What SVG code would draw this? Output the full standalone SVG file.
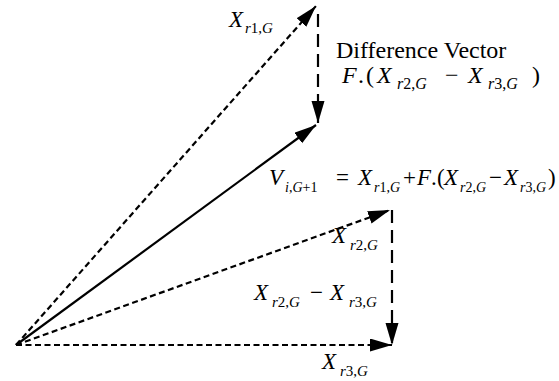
<svg xmlns="http://www.w3.org/2000/svg" width="559" height="381" viewBox="0 0 559 381">
<defs>
<marker id="ah" markerUnits="userSpaceOnUse" markerWidth="24" markerHeight="14" refX="22" refY="6.5" orient="auto">
<path d="M0,0 L22,6.5 L0,13 z" fill="#000"/>
</marker>
</defs>
<rect width="559" height="381" fill="#fff"/>
<g id="connectors" fill="none" stroke="#000" stroke-width="2.2" marker-end="url(#ah)">
<line stroke-dasharray="6 3.5" x1="16" y1="345" x2="316" y2="6"/>
<line x1="16" y1="345" x2="316" y2="125"/>
<line stroke-dasharray="6 3.5" x1="16" y1="345" x2="390" y2="210"/>
<line stroke-dasharray="6 3.5" x1="16" y1="345" x2="392" y2="345"/>
<line stroke-dasharray="13 7" x1="318" y1="14" x2="318" y2="123"/>
<line stroke-dasharray="13 7" x1="392" y1="210" x2="392" y2="345"/>
</g>
<g id="labels" font-family="'Liberation Serif', 'Times New Roman', serif" fill="#000">
<g id="label-xr1">
<text font-family="'Liberation Serif', 'Times New Roman', serif" font-size="23" font-style="italic" x="229" y="27">X</text>
<text font-family="'Liberation Serif', 'Times New Roman', serif" font-size="15" font-style="italic" x="245" y="33">r<tspan font-style="normal">1,</tspan>G</text>
</g>
<g id="label-diff">
<text font-family="'Liberation Serif', 'Times New Roman', serif" font-size="24" x="336" y="58">Difference Vector</text>
<text font-family="'Liberation Serif', 'Times New Roman', serif" font-size="24" font-style="italic" x="342" y="83">F<tspan font-style="normal" x="358">.</tspan><tspan font-style="normal" x="366">(</tspan><tspan x="377">X</tspan><tspan font-style="normal" x="445">−</tspan><tspan x="468">X</tspan><tspan font-style="normal" x="532">)</tspan></text>
<text font-family="'Liberation Serif', 'Times New Roman', serif" font-size="16" font-style="italic" x="397" y="89">r<tspan font-style="normal">2,</tspan>G<tspan x="488">r</tspan><tspan font-style="normal">3,</tspan>G</text>
</g>
<g id="label-v">
<text font-family="'Liberation Serif', 'Times New Roman', serif" font-size="23" font-style="italic" x="269" y="185">V<tspan font-style="normal" x="336">=</tspan><tspan x="358">X</tspan><tspan font-style="normal" x="403">+</tspan><tspan x="417">F</tspan><tspan font-style="normal" x="431">.</tspan><tspan font-style="normal" x="437">(</tspan><tspan x="444">X</tspan><tspan font-style="normal" x="489">−</tspan><tspan x="504">X</tspan><tspan font-style="normal" x="548">)</tspan></text>
<text font-family="'Liberation Serif', 'Times New Roman', serif" font-size="14" font-style="italic" x="285" y="192">i<tspan font-style="normal">,</tspan>G<tspan font-style="normal">+1</tspan><tspan x="374">r</tspan><tspan font-style="normal">1,</tspan>G<tspan x="460">r</tspan><tspan font-style="normal">2,</tspan>G<tspan x="520">r</tspan><tspan font-style="normal">3,</tspan>G</text>
</g>
<g id="label-xr2">
<text font-family="'Liberation Serif', 'Times New Roman', serif" font-size="23" font-style="italic" x="332" y="243">X</text>
<text font-family="'Liberation Serif', 'Times New Roman', serif" font-size="15" font-style="italic" x="350" y="250">r<tspan font-style="normal">2,</tspan>G</text>
</g>
<g id="label-xr2-xr3">
<text font-family="'Liberation Serif', 'Times New Roman', serif" font-size="23" font-style="italic" x="254" y="300">X<tspan font-style="normal" x="310">−</tspan><tspan x="330">X</tspan></text>
<text font-family="'Liberation Serif', 'Times New Roman', serif" font-size="15" font-style="italic" x="272" y="307">r<tspan font-style="normal">2,</tspan>G<tspan x="349">r</tspan><tspan font-style="normal">3,</tspan>G</text>
</g>
<g id="label-xr3">
<text font-family="'Liberation Serif', 'Times New Roman', serif" font-size="23" font-style="italic" x="322" y="369">X</text>
<text font-family="'Liberation Serif', 'Times New Roman', serif" font-size="15" font-style="italic" x="340" y="376">r<tspan font-style="normal">3,</tspan>G</text>
</g>
</g>
</svg>
